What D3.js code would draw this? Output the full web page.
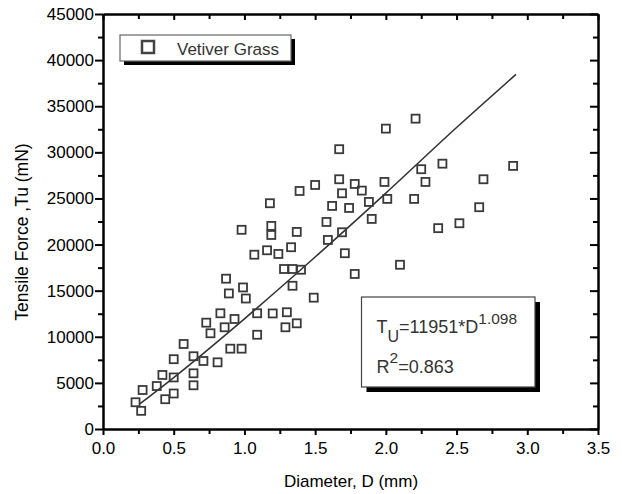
<!DOCTYPE html>
<html>
<head>
<meta charset="utf-8">
<script src="https://cdn.jsdelivr.net/npm/d3@7"></script>
<style>
  body { margin: 0; background: #fff; }
  svg { display: block; font-family: "Liberation Sans", Arial, sans-serif; }
</style>
</head>
<body>
<div id="scatter"></div>
<script>
// Measured root samples: diameter (mm) and tensile force (mN)
var diameter = [0.98, 1.07, 0.87, 0.99, 0.89, 1.01, 0.83, 1.09, 0.73, 0.93,
    0.86, 0.76, 1.09, 0.90, 0.98, 0.57, 0.64, 0.50, 0.71, 0.81,
    0.42, 0.64, 0.50, 0.38, 0.64, 0.28, 0.44, 0.50, 0.23, 0.27,
    2.21, 2.00, 1.67, 2.25, 2.40, 2.90, 1.67, 1.50, 1.39, 1.78,
    1.83, 1.99, 2.28, 2.69, 1.69, 1.18, 1.62, 1.74, 1.88, 2.01,
    2.20, 2.66, 1.90, 1.58, 1.19, 1.19, 1.37, 1.69, 1.59, 2.37,
    2.52, 1.16, 1.24, 1.33, 1.71, 1.28, 1.34, 1.40, 2.10, 1.78,
    1.34, 1.49, 1.20, 1.30, 1.29, 1.37];
var tensile = [21600, 18900, 16300, 15350, 14700, 14150, 12550, 12550, 11530, 11930,
    11030, 10380, 10220, 8710, 8710, 9220, 7890, 7570, 7375, 7230,
    5860, 6040, 5590, 4660, 4740, 4230, 3230, 3850, 2900, 1970,
    33650, 32570, 30340, 28170, 28770, 28530, 27080, 26460, 25810, 26570,
    25850, 26790, 26790, 27080, 25560, 24480, 24190, 23970, 24620, 24950,
    24950, 24050, 22780, 22450, 22020, 21040, 21370, 21330, 20500, 21780,
    22310, 19380, 18980, 19710, 19060, 17350, 17350, 17270, 17810, 16810,
    15530, 14240, 12530, 12660, 11030, 11460];

// Fitted curve as drawn (T = 11951*D^1.098)
var fitD = [0.26, 0.5, 1.0, 1.5, 2.0, 2.5, 2.92];
var fitT = [2720, 5580, 11950, 18650, 25580, 32690, 38450];

// Tick values
var xMajor = [0, 0.5, 1.0, 1.5, 2.0, 2.5, 3.0, 3.5];
var xMinor = [0.25, 0.75, 1.25, 1.75, 2.25, 2.75, 3.25];
var yMajor = [0, 5000, 10000, 15000, 20000, 25000, 30000, 35000, 40000, 45000];
var yMinor = [2500, 7500, 12500, 17500, 22500, 27500, 32500, 37500, 42500];

var legendLabel = "Vetiver Grass";

var svgWidth = 622;
var svgHeight = 494;

var svg = d3.select("#scatter")
    .append("svg")
    .attr("width", svgWidth)
    .attr("height", svgHeight);

var plot = { left: 103, right: 598, top: 14, bottom: 429 };

var xScale = d3.scaleLinear().domain([0, 3.5]).range([plot.left, plot.right]);
var yScale = d3.scaleLinear().domain([0, 45000]).range([plot.bottom, plot.top]);

var points = diameter.map((d, i) => ({ d: d, t: tensile[i] }));
var fit = fitD.map((d, i) => ({ d: d, t: fitT[i] }));

// fit line
svg.append("path")
    .datum(fit)
    .attr("fill", "none")
    .attr("stroke", "#333")
    .attr("stroke-width", 1.6)
    .attr("d", d3.line().x(p => xScale(p.d)).y(p => yScale(p.t)).curve(d3.curveMonotoneX));

// open square markers
var sq = 8;
svg.selectAll("rect.pt")
    .data(points)
    .enter()
    .append("rect")
    .attr("class", "pt")
    .attr("x", p => xScale(p.d) - sq / 2)
    .attr("y", p => yScale(p.t) - sq / 2)
    .attr("width", sq)
    .attr("height", sq)
    .attr("fill", "none")
    .attr("stroke", "#3a3a3a")
    .attr("stroke-width", 1.8);

// Axes
function styleAxis(g, hideDomain) {
    g.selectAll("line").attr("stroke", "#000").attr("stroke-width", 2);
    g.select(".domain").attr("stroke", "#000").attr("stroke-width", 2.5)
        .style("display", hideDomain ? "none" : null);
    g.selectAll("text").attr("fill", "#000").style("font-size", "17px")
        .style("font-family", "'Liberation Sans', Arial, sans-serif");
}

function addAxis(axis, transform, hideDomain) {
    var g = svg.append("g").attr("transform", transform).call(axis);
    styleAxis(g, hideDomain);
    return g;
}

var atBottom = `translate(0, ${plot.bottom})`;
var atTop = `translate(0, ${plot.top})`;
var atLeft = `translate(${plot.left}, 0)`;
var atRight = `translate(${plot.right}, 0)`;

addAxis(d3.axisBottom(xScale).tickValues(xMajor).tickSize(6).tickSizeOuter(0)
    .tickPadding(7).tickFormat(d3.format(".1f")), atBottom, false);
addAxis(d3.axisBottom(xScale).tickValues(xMinor).tickSize(5).tickFormat(""), atBottom, true);

addAxis(d3.axisLeft(yScale).tickValues(yMajor).tickSize(8).tickSizeOuter(0)
    .tickPadding(1).tickFormat(d3.format("d")), atLeft, false);
addAxis(d3.axisLeft(yScale).tickValues(yMinor).tickSize(5).tickFormat(""), atLeft, true);

addAxis(d3.axisTop(xScale).tickValues(xMajor).tickSizeInner(-6).tickSizeOuter(0).tickFormat(""), atTop, false);
addAxis(d3.axisTop(xScale).tickValues(xMinor).tickSize(-5).tickFormat(""), atTop, true);

addAxis(d3.axisRight(yScale).tickValues(yMajor).tickSizeInner(-8).tickSizeOuter(0).tickFormat(""), atRight, false);
addAxis(d3.axisRight(yScale).tickValues(yMinor).tickSize(-5).tickFormat(""), atRight, true);

// Axis titles
svg.append("text")
    .attr("x", 351)
    .attr("y", 487)
    .attr("text-anchor", "middle")
    .style("font-size", "17px")
    .attr("fill", "#000")
    .text("Diameter, D (mm)");

svg.append("text")
    .attr("transform", "translate(28, 232) rotate(-90)")
    .attr("text-anchor", "middle")
    .style("font-size", "17.5px")
    .attr("fill", "#000")
    .text("Tensile Force ,Tu (mN)");

// Legend box with drop shadow
svg.append("rect").attr("x", 124).attr("y", 39).attr("width", 171).attr("height", 26).attr("fill", "#000");
svg.append("rect").attr("x", 120).attr("y", 35).attr("width", 171).attr("height", 26)
    .attr("fill", "#fff").attr("stroke", "#666").attr("stroke-width", 1.2);
svg.append("rect").attr("x", 142).attr("y", 41).attr("width", 12).attr("height", 12)
    .attr("fill", "none").attr("stroke", "#444").attr("stroke-width", 2.5);
svg.append("text").attr("x", 177).attr("y", 55)
    .style("font-size", "17px").attr("fill", "#333")
    .text(legendLabel);

// Equation box with drop shadow
svg.append("rect").attr("x", 366.5).attr("y", 302).attr("width", 173.5).attr("height", 90).attr("fill", "#000");
svg.append("rect").attr("x", 361.5).attr("y", 297).attr("width", 173.5).attr("height", 90)
    .attr("fill", "#fff").attr("stroke", "#444").attr("stroke-width", 1.2);

var eq1 = svg.append("text").attr("x", 376.5).attr("y", 333)
    .style("font-size", "18px").attr("fill", "#333");
eq1.append("tspan").text("T");
eq1.append("tspan").attr("y", 341.5).style("font-size", "16px").text("U");
eq1.append("tspan").attr("y", 333).text("=11951*D");
eq1.append("tspan").attr("y", 323.5).style("font-size", "15.5px").text("1.098");

var eq2 = svg.append("text").attr("x", 376.5).attr("y", 372.5)
    .style("font-size", "18px").attr("fill", "#333");
eq2.append("tspan").text("R");
eq2.append("tspan").attr("y", 363).style("font-size", "15.5px").text("2");
eq2.append("tspan").attr("y", 372.5).text("=0.863");
</script>
</body>
</html>
